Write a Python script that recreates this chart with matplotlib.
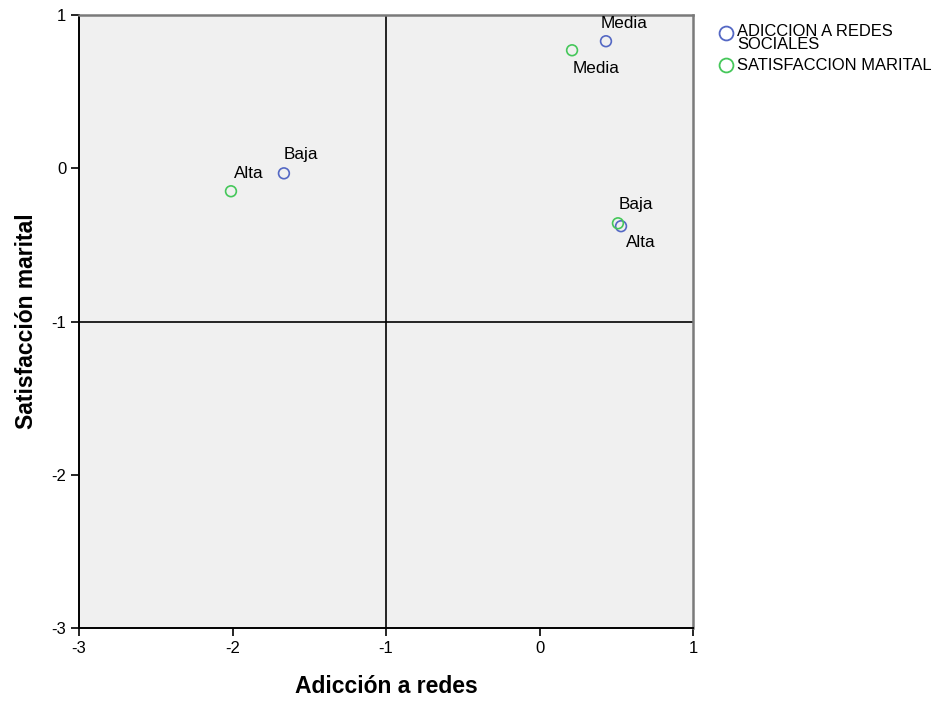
import matplotlib.pyplot as plt
from matplotlib.lines import Line2D

plt.rcParams['font.family'] = ['Liberation Sans', 'DejaVu Sans']
plt.rcParams['axes.unicode_minus'] = False

# coordenadas de las categorias (dimension 1, dimension 2)
cats = ['Baja', 'Media', 'Alta']
adiccion_x = [-1.665, 0.433, 0.531]
adiccion_y = [-0.033, 0.829, -0.378]
satisf_cats = ['Alta', 'Media', 'Baja']
satisf_x = [-2.01, 0.212, 0.511]
satisf_y = [-0.150, 0.770, -0.359]

series_names = ['ADICCION A REDES\nSOCIALES', 'SATISFACCION MARITAL']

blue = '#5468c4'
green = '#45c75a'

fig = plt.figure(figsize=(9.36, 7.02), dpi=100)
ax = fig.add_axes([0.0844, 0.1054, 0.656, 0.8732])
ax.set_facecolor('#f0f0f0')

ax.scatter(adiccion_x, adiccion_y, s=60, facecolors='none', edgecolors=blue,
           linewidths=1.2, zorder=3)
ax.scatter(satisf_x, satisf_y, s=60, facecolors='none', edgecolors=green,
           linewidths=1.2, zorder=3)

# offsets de etiquetas en pixeles
blue_off = [(17, 19), (18, 18), (20, -16)]
green_off = [(18, 18), (24, -18), (18, 19)]
for name, x, y, off in zip(cats, adiccion_x, adiccion_y, blue_off):
    ax.annotate(name, (x, y), xytext=off, textcoords='offset pixels',
                ha='center', va='center', fontsize=12.3)
for name, x, y, off in zip(satisf_cats, satisf_x, satisf_y, green_off):
    ax.annotate(name, (x, y), xytext=off, textcoords='offset pixels',
                ha='center', va='center', fontsize=12.3)

ax.axvline(-1, color='black', lw=1.2, zorder=2)
ax.axhline(-1, color='black', lw=1.2, zorder=2)

ax.set_xlim(-3, 1)
ax.set_ylim(-3, 1)
ax.set_xticks([-3, -2, -1, 0, 1])
ax.set_yticks([-3, -2, -1, 0, 1])
ax.tick_params(direction='out', length=6, width=1.2, labelsize=12, colors='black', pad=3)

for side in ['left', 'bottom']:
    ax.spines[side].set_linewidth(1.4)
    ax.spines[side].set_color('black')
for side in ['top', 'right']:
    ax.spines[side].set_linewidth(1.8)
    ax.spines[side].set_color('#7a7a7a')

ax.set_xlabel('Adicción a redes', fontsize=16.5, fontweight='bold', labelpad=14)
ax.set_ylabel('Satisfacción marital', fontsize=16.5, fontweight='bold', labelpad=10)

# leyenda estilo SPSS: el circulo alineado con la primera linea
fig.add_artist(Line2D([0.7756], [0.953], marker='o', markersize=10, mfc='none',
                      mec=blue, mew=1.3, transform=fig.transFigure))
fig.add_artist(Line2D([0.7756], [0.9074], marker='o', markersize=10, mfc='none',
                      mec=green, mew=1.3, transform=fig.transFigure))
fig.text(0.7874, 0.9665, series_names[0], ha='left', va='top', fontsize=11.9,
         linespacing=0.9)
fig.text(0.7874, 0.9074, series_names[1], ha='left', va='center', fontsize=11.9)

fig.savefig('out.png', dpi=100)
